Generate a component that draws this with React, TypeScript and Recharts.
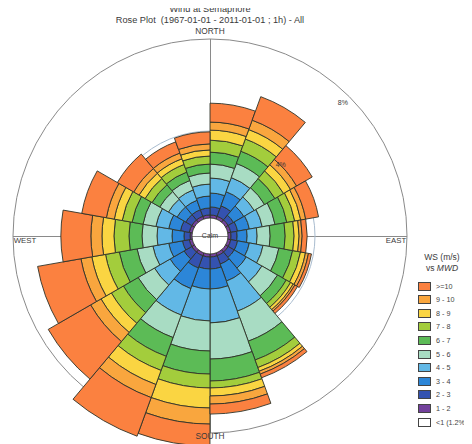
import React from 'react';
import { RadialBarChart, RadialBar, PolarAngleAxis, PolarRadiusAxis, PolarGrid } from 'recharts';

// 18 direction sectors of 20°, labelled by their centre (compass degrees)
const directions = ['10', '30', '50', '70', '90', '110', '130', '150', '170', '190', '210', '230', '250', '270', '290', '310', '330', '350'];

// Frequency (%) of each wind-speed band per direction
const ws1to2 = [0.14, 0.14, 0.14, 0.14, 0.14, 0.14, 0.14, 0.14, 0.14, 0.14, 0.14, 0.14, 0.14, 0.09, 0.14, 0.14, 0.14, 0.14];
const ws2to3 = [0.37, 0.51, 0.28, 0.32, 0.28, 0.32, 0.32, 0.41, 0.55, 0.55, 0.6, 0.41, 0.32, 0.28, 0.41, 0.32, 0.32, 0.32];
const ws3to4 = [0.64, 0.69, 0.55, 0.55, 0.46, 0.55, 0.64, 0.83, 0.92, 0.92, 1.01, 0.74, 0.64, 0.55, 0.55, 0.46, 0.46, 0.55];
const ws4to5 = [0.69, 0.69, 0.55, 0.6, 0.46, 0.64, 0.83, 1.47, 1.56, 1.47, 1.29, 0.83, 0.74, 0.69, 0.6, 0.46, 0.51, 0.55];
const ws5to6 = [0.64, 0.69, 0.55, 0.6, 0.6, 0.74, 0.83, 1.47, 1.66, 1.38, 1.1, 0.87, 0.74, 0.69, 0.6, 0.46, 0.46, 0.51];
const ws6to7 = [0.55, 0.6, 0.55, 0.55, 0.69, 0.64, 0.46, 0.92, 1.01, 1.06, 0.92, 0.78, 0.83, 0.6, 0.51, 0.41, 0.41, 0.41];
const ws7to8 = [0.55, 0.6, 0.46, 0.37, 0.41, 0.37, 0.23, 0.37, 0.32, 0.64, 0.69, 0.64, 0.64, 0.69, 0.46, 0.37, 0.37, 0.37];
const ws8to9 = [0.46, 0.46, 0.37, 0.28, 0.23, 0.23, 0.14, 0.18, 0.37, 0.92, 0.69, 0.55, 0.64, 0.55, 0.37, 0.32, 0.28, 0.28];
const ws9to10 = [0.37, 0.46, 0.32, 0.23, 0.14, 0.14, 0.09, 0.14, 0.37, 0.74, 0.64, 0.55, 0.51, 0.51, 0.37, 0.28, 0.28, 0.28];
const ws10plus = [0.87, 1.15, 0.83, 0.6, 0.23, 0.14, 0.14, 0.18, 0.46, 1.01, 1.89, 2.25, 2.02, 1.38, 1.15, 0.87, 0.55, 0.55];

const bandSeries = [ws1to2, ws2to3, ws3to4, ws4to5, ws5to6, ws6to7, ws7to8, ws8to9, ws9to10, ws10plus];
const bandKeys = ['b12', 'b23', 'b34', 'b45', 'b56', 'b67', 'b78', 'b89', 'b910', 'b10'];
const bandLabels = ['1 - 2', '2 - 3', '3 - 4', '4 - 5', '5 - 6', '6 - 7', '7 - 8', '8 - 9', '9 - 10', '>=10'];
const bandColors = ['#73419c', '#3452b0', '#2c86d8', '#62b8e6', '#a8dcc3', '#5cbb56', '#a3cd3c', '#fad542', '#f9a63e', '#fb8140'];
const calmLabel = '<1 (1.2%)';
const ringLabels = ['4%', '8%'];

const data = directions.map((d, i) => {
  const row: Record<string, number | string> = { dir: d };
  bandKeys.forEach((k, j) => {
    row[k] = bandSeries[j][i];
  });
  return row;
});

// layout
const W = 464;
const H = 436;
const CX = 202;
const CY = 228;
const R0 = 18;
const PX_PER_PCT = 21.75;
const PMAX = 9;
const ROUT = R0 + PMAX * PX_PER_PCT;
const FRAME = 197;
const SECTOR = 360 / directions.length;
const rOf = (p: number) => R0 + p * PX_PER_PCT;
const ringRadii = [rOf(4), FRAME];

const font = '"Liberation Sans", Arial, sans-serif';

const Txt = ({ x, y, size, children, color = '#3a3a3a' }: any) => (
  <div
    style={{
      position: 'absolute',
      left: x,
      top: y,
      transform: 'translate(-50%, -50%)',
      fontSize: size,
      lineHeight: 1.2,
      whiteSpace: 'nowrap',
      color,
      fontFamily: font,
    }}
  >
    {children}
  </div>
);

export default function App() {
  const legendRows = [...bandLabels.map((l, i) => ({ l, c: bandColors[i] }))].reverse();
  legendRows.push({ l: calmLabel, c: '#ffffff' });
  const ringAngle = Math.PI / 4;
  const barW = SECTOR - 0.01;
  return (
    <div style={{ position: 'relative', width: W, height: H, background: '#fff' }}>
      {/* compass axis lines behind the bars */}
      <div style={{ position: 'absolute', left: CX, top: CY - FRAME, width: 1, height: FRAME * 2, background: '#8a8a8a' }} />
      <div style={{ position: 'absolute', left: CX - FRAME, top: CY, width: FRAME * 2, height: 1, background: '#8a8a8a' }} />
      <RadialBarChart
        width={W}
        height={H}
        data={data}
        cx={CX}
        cy={CY}
        innerRadius={R0}
        outerRadius={ROUT}
        startAngle={90 - SECTOR}
        endAngle={-270 - SECTOR}
        layout="centric"
        barCategoryGap={0}
        barGap={0}
        barSize={barW}
        margin={{ top: 0, right: 0, bottom: 0, left: 0 }}
      >
        <PolarAngleAxis type="category" dataKey="dir" tick={false} axisLine={false} tickLine={false} />
        <PolarRadiusAxis type="number" domain={[0, PMAX]} tick={false} axisLine={false} tickLine={false} />
        <PolarGrid gridType="circle" radialLines={false} polarRadius={[ringRadii[0]]} stroke="#a9bccf" strokeWidth={1} />
        <PolarGrid gridType="circle" radialLines={false} polarRadius={[ringRadii[1]]} stroke="#8a8a8a" strokeWidth={1} />
        {bandKeys.map((k, j) => (
          <RadialBar
            key={k}
            dataKey={k}
            stackId="ws"
            barSize={barW}
            fill={bandColors[j]}
            stroke="#2f3328"
            strokeWidth={0.9}
            isAnimationActive={false}
          />
        ))}
      </RadialBarChart>

      {/* titles */}
      <Txt x={202} y={2} size={9.2}>Wind at Semaphore</Txt>
      <Txt x={202} y={12.5} size={9.2}>Rose Plot&nbsp; (1967-01-01 - 2011-01-01 ; 1h) - All</Txt>
      <Txt x={202} y={24} size={8.3}>NORTH</Txt>
      <Txt x={202} y={429} size={8.3}>SOUTH</Txt>
      <Txt x={17} y={233} size={7.8}>WEST</Txt>
      <Txt x={388} y={233} size={7.8}>EAST</Txt>
      <Txt x={CX} y={CY} size={7}>Calm</Txt>
      {ringRadii.map((rr, i) => {
        const r = rr - (i === 0 ? 5 : 9);
        return (
          <Txt key={i} x={CX + r * Math.sin(ringAngle)} y={CY - r * Math.cos(ringAngle)} size={7}>
            {ringLabels[i]}
          </Txt>
        );
      })}

      {/* legend */}
      <Txt x={434} y={249} size={8.5}>WS (m/s)</Txt>
      <Txt x={434} y={260} size={8.5}>
        vs <span style={{ fontStyle: 'italic' }}>MWD</span>
      </Txt>
      {legendRows.map((row, i) => (
        <div
          key={row.l}
          style={{ position: 'absolute', left: 410, top: 273 + i * 13.6, display: 'flex', alignItems: 'center', height: 10 }}
        >
          <div style={{ width: 13, height: 9, background: row.c, border: '1px solid #444', boxSizing: 'border-box' }} />
          <div style={{ marginLeft: 5, fontSize: 7.2, color: '#444', fontFamily: font, whiteSpace: 'nowrap' }}>{row.l}</div>
        </div>
      ))}
    </div>
  );
}
